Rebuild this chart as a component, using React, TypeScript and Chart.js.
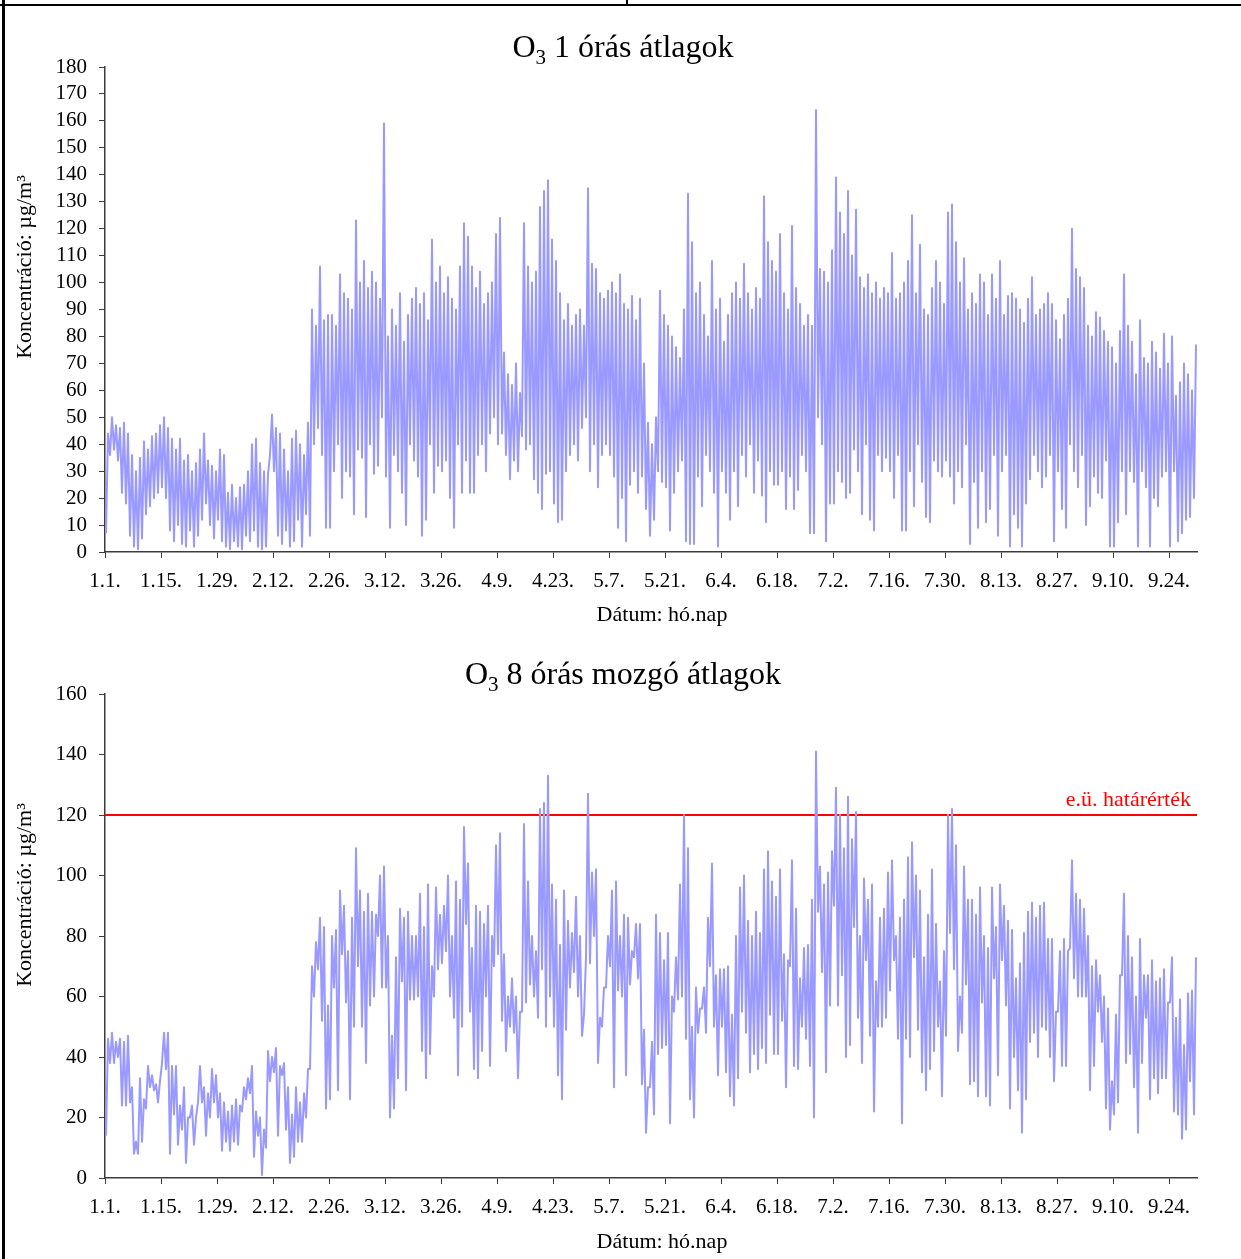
import { useEffect, useRef } from 'react';
import { Chart, registerables } from 'chart.js';

Chart.register(...registerables);

const FONT = '"Liberation Serif", "Times New Roman", serif';

// x-axis tick labels (every 14 days starting 1 January)
const tickLabels = ['1.1.', '1.15.', '1.29.', '2.12.', '2.26.', '3.12.', '3.26.', '4.9.', '4.23.', '5.7.',
  '5.21.', '6.4.', '6.18.', '7.2.', '7.16.', '7.30.', '8.13.', '8.27.', '9.10.', '9.24.'];
const tickStepDays = 14;
const dayCount = 273;

// O3 1-hour averages: daily low / daily high (µg/m3), 1 Jan .. 30 Sep
const hourlyDailyLow = [
  7, 36, 38, 34, 22, 18, 6, 2, 1, 5, 14, 17, 20, 22,
  24, 20, 8, 4, 10, 3, 2, 8, 2, 6, 12, 18, 10, 5,
  12, 4, 2, 1, 4, 2, 1, 6, 4, 8, 2, 1, 2, 36,
  30, 6, 3, 8, 2, 4, 12, 2, 14, 6, 40, 46, 36, 9,
  9, 30, 40, 20, 30, 28, 14, 38, 35, 13, 40, 29, 32, 50,
  28, 9, 36, 30, 22, 10, 40, 34, 28, 6, 12, 40, 22, 32,
  30, 34, 20, 9, 40, 22, 34, 22, 22, 36, 40, 30, 44, 50,
  40, 44, 36, 27, 34, 30, 43, 38, 40, 27, 22, 16, 29, 30,
  18, 11, 12, 30, 36, 40, 34, 46, 50, 30, 40, 24, 36, 40,
  36, 28, 9, 20, 4, 25, 30, 22, 28, 16, 6, 12, 30, 26,
  24, 8, 22, 30, 34, 4, 3, 3, 28, 17, 36, 30, 22, 2,
  30, 22, 12, 30, 17, 36, 28, 40, 22, 34, 21, 11, 30, 25,
  25, 30, 16, 28, 16, 23, 36, 30, 7, 7, 50, 40, 4, 18,
  18, 30, 26, 20, 22, 38, 30, 14, 40, 12, 8, 36, 30, 35,
  30, 20, 36, 8, 8, 30, 17, 40, 26, 13, 11, 34, 30, 28,
  34, 28, 18, 30, 24, 40, 3, 26, 9, 30, 11, 16, 36, 6,
  30, 36, 2, 14, 9, 2, 18, 27, 36, 30, 24, 28, 36, 4,
  30, 16, 9, 40, 30, 24, 36, 10, 17, 28, 22, 20, 34, 2,
  2, 11, 30, 14, 30, 26, 2, 30, 24, 2, 20, 17, 28, 30,
  2, 30, 4, 7, 12, 13, 20,
];
const hourlyDailyHigh = [
  44, 50, 47, 46, 48, 44, 36, 30, 35, 41, 38, 43, 44, 47,
  50, 46, 42, 38, 42, 34, 36, 30, 33, 38, 44, 34, 32, 30,
  38, 36, 22, 25, 20, 24, 25, 30, 40, 42, 33, 30, 29, 51,
  46, 44, 38, 30, 42, 45, 40, 36, 48, 90, 84, 106, 86, 88,
  88, 84, 103, 96, 94, 90, 123, 100, 108, 98, 104, 100, 94, 159,
  80, 90, 84, 96, 78, 88, 94, 98, 92, 96, 86, 116, 100, 106,
  96, 102, 94, 90, 106, 122, 117, 106, 98, 104, 92, 96, 100, 118,
  124, 74, 66, 62, 70, 59, 122, 106, 100, 104, 128, 134, 138, 116,
  108, 96, 86, 92, 84, 88, 90, 84, 135, 107, 105, 96, 94, 97,
  100, 96, 103, 92, 90, 95, 86, 94, 70, 48, 40, 50, 97, 88,
  84, 80, 76, 72, 90, 133, 115, 96, 100, 88, 80, 108, 90, 94,
  78, 88, 96, 100, 94, 107, 96, 90, 98, 94, 132, 115, 108, 104,
  118, 96, 90, 121, 98, 92, 84, 88, 84, 164, 105, 104, 100, 112,
  139, 126, 118, 134, 110, 127, 102, 98, 103, 96, 100, 94, 98, 96,
  111, 94, 96, 100, 108, 125, 96, 114, 90, 88, 98, 108, 100, 92,
  126, 129, 115, 100, 109, 90, 96, 92, 103, 100, 88, 103, 94, 108,
  88, 95, 96, 94, 90, 85, 94, 102, 88, 90, 92, 96, 92, 86,
  79, 88, 94, 120, 105, 102, 98, 84, 80, 89, 87, 82, 78, 76,
  70, 82, 103, 84, 78, 66, 86, 72, 70, 78, 74, 68, 81, 70,
  80, 58, 63, 70, 66, 60, 77,
];

// O3 8-hour moving averages: daily low / daily high (µg/m3)
const movingDailyLow = [
  14, 38, 38, 40, 24, 24, 25, 8, 8, 12, 23, 30, 29, 25,
  38, 36, 8, 21, 11, 16, 5, 20, 11, 25, 25, 14, 20, 25,
  20, 9, 12, 9, 12, 11, 22, 26, 28, 7, 14, 1, 10, 32,
  35, 14, 34, 16, 5, 7, 12, 12, 20, 36, 60, 69, 52, 23,
  26, 63, 29, 74, 58, 26, 50, 70, 50, 38, 57, 60, 80, 63,
  63, 20, 23, 33, 65, 29, 59, 59, 60, 42, 33, 41, 60, 69,
  71, 75, 60, 53, 34, 50, 84, 55, 36, 33, 42, 60, 37, 70,
  74, 52, 42, 50, 48, 33, 55, 58, 64, 60, 53, 69, 50, 60,
  50, 34, 26, 49, 63, 68, 60, 47, 73, 71, 80, 38, 50, 63,
  70, 30, 62, 60, 34, 64, 73, 66, 31, 15, 30, 21, 41, 43,
  44, 18, 55, 59, 60, 46, 26, 20, 48, 56, 48, 70, 50, 34,
  50, 35, 27, 24, 33, 55, 48, 35, 41, 36, 43, 38, 54, 41,
  41, 52, 30, 70, 37, 36, 50, 46, 37, 20, 88, 68, 35, 57,
  90, 57, 67, 40, 44, 83, 53, 38, 72, 47, 22, 50, 50, 53,
  62, 72, 46, 18, 46, 40, 73, 49, 35, 29, 36, 42, 50, 27,
  47, 81, 69, 42, 48, 64, 31, 32, 27, 58, 27, 24, 66, 34,
  72, 57, 23, 40, 29, 15, 26, 45, 48, 40, 50, 49, 40, 32,
  55, 37, 37, 76, 66, 60, 60, 60, 29, 37, 55, 45, 23, 16,
  21, 25, 67, 38, 41, 30, 15, 38, 53, 26, 33, 28, 33, 33,
  58, 22, 21, 13, 16, 32, 21,
];
const movingDailyHigh = [
  46, 48, 45, 46, 45, 47, 30, 12, 33, 26, 37, 34, 31, 32,
  48, 48, 37, 37, 24, 30, 20, 24, 20, 37, 30, 28, 36, 34,
  28, 25, 22, 24, 26, 24, 30, 33, 37, 22, 20, 16, 42, 40,
  43, 37, 38, 30, 21, 30, 25, 28, 36, 70, 78, 86, 83, 57,
  80, 82, 95, 90, 75, 86, 109, 95, 88, 94, 88, 87, 100, 103,
  80, 47, 73, 89, 86, 88, 80, 80, 94, 83, 97, 70, 96, 87,
  90, 100, 80, 98, 92, 116, 104, 76, 90, 88, 84, 90, 80, 110,
  114, 74, 60, 66, 60, 55, 117, 98, 80, 75, 122, 124, 133, 97,
  92, 77, 95, 85, 81, 93, 80, 54, 127, 101, 102, 53, 63, 80,
  95, 98, 80, 87, 86, 75, 84, 84, 49, 30, 45, 87, 81, 72,
  81, 60, 73, 97, 120, 109, 50, 63, 56, 63, 86, 104, 67, 69,
  69, 70, 54, 80, 96, 100, 85, 80, 88, 81, 102, 108, 98, 93,
  102, 74, 72, 105, 89, 66, 76, 77, 92, 141, 103, 97, 101, 108,
  129, 120, 109, 126, 112, 121, 80, 99, 92, 97, 65, 86, 89, 101,
  105, 80, 86, 92, 106, 111, 100, 95, 73, 87, 102, 84, 65, 75,
  120, 122, 110, 60, 103, 92, 92, 87, 96, 80, 76, 96, 83, 97,
  90, 85, 82, 66, 71, 81, 88, 91, 86, 90, 91, 79, 79, 55,
  75, 79, 75, 105, 94, 92, 89, 80, 70, 72, 67, 60, 56, 32,
  54, 67, 94, 80, 73, 60, 79, 67, 67, 72, 65, 66, 69, 58,
  73, 53, 59, 44, 61, 62, 73,
];

const limitValue = 120;
const limitLabel = 'e.ü. határérték';
const hourlyTitle = ['O', '3', ' 1 órás átlagok'];
const movingTitle = ['O', '3', ' 8 órás mozgó átlagok'];
const yAxisTitle = 'Koncentráció: µg/m³';
const xAxisTitle = 'Dátum: hó.nap';

const LINE_COLOR = '#9999ff';
const AXIS_COLOR = '#3c3c3c';
const PAGE_W = 1241;

function dailyToSeries(lows: number[], highs: number[]) {
  const pts: { x: number; y: number }[] = [];
  lows.forEach((lo, d) => {
    pts.push({ x: d + 0.25, y: lo });
    pts.push({ x: d + 0.75, y: highs[d] });
  });
  return pts;
}

type PanelProps = {
  top: number;
  height: number;
  plotTop: number;
  plotBottom: number;
  yMax: number;
  yStep: number;
  lows: number[];
  highs: number[];
  title: string[];
  titleBaseline: number;
  yTitleCenter: number;
  xTitleBaseline: number;
  limit?: boolean;
};

function ChartPanel(p: PanelProps) {
  const ref = useRef<HTMLCanvasElement | null>(null);
  useEffect(() => {
    if (!ref.current) return;
    const overlay = {
      id: 'overlay',
      afterDraw(chart: any) {
        const ctx = chart.ctx as CanvasRenderingContext2D;
        ctx.save();
        ctx.fillStyle = '#000';
        // title with subscript
        const big = `32px ${FONT}`;
        const small = `21px ${FONT}`;
        ctx.font = big;
        const w1 = ctx.measureText(p.title[0]).width;
        const w3 = ctx.measureText(p.title[2]).width;
        ctx.font = small;
        const w2 = ctx.measureText(p.title[1]).width;
        let x = 623 - (w1 + w2 + w3) / 2;
        const by = p.titleBaseline - p.top;
        ctx.textAlign = 'left';
        ctx.textBaseline = 'alphabetic';
        ctx.font = big;
        ctx.fillText(p.title[0], x, by);
        x += w1;
        ctx.font = small;
        ctx.fillText(p.title[1], x, by + 7);
        x += w2;
        ctx.font = big;
        ctx.fillText(p.title[2], x, by);
        // x axis title
        ctx.font = `22px ${FONT}`;
        ctx.textAlign = 'center';
        ctx.fillText(xAxisTitle, 662, p.xTitleBaseline - p.top);
        // y axis title
        ctx.save();
        ctx.translate(25, p.yTitleCenter - p.top);
        ctx.rotate(-Math.PI / 2);
        ctx.textBaseline = 'middle';
        ctx.fillText(yAxisTitle, 0, 0);
        ctx.restore();
        if (p.limit) {
          const yPix = chart.scales.y.getPixelForValue(limitValue);
          ctx.fillStyle = '#ff0000';
          ctx.font = `22px ${FONT}`;
          ctx.textAlign = 'right';
          ctx.textBaseline = 'alphabetic';
          ctx.fillText(limitLabel, 1191, yPix - 9);
        }
        ctx.restore();
      },
    };
    const datasets: any[] = [
      {
        data: dailyToSeries(p.lows, p.highs),
        borderColor: LINE_COLOR,
        borderWidth: 2,
        borderJoinStyle: 'round',
        pointRadius: 0,
        tension: 0,
        fill: false,
      },
    ];
    if (p.limit) {
      datasets.push({
        data: [
          { x: 0, y: limitValue },
          { x: dayCount, y: limitValue },
        ],
        borderColor: '#ff0000',
        borderWidth: 2,
        pointRadius: 0,
        fill: false,
      });
    }
    const chart = new Chart(ref.current, {
      type: 'line',
      data: { datasets },
      options: {
        animation: false,
        responsive: false,
        maintainAspectRatio: false,
        events: [],
        layout: { padding: { top: p.plotTop - p.top, right: PAGE_W - 1197, left: 0, bottom: 0 } },
        plugins: { legend: { display: false }, tooltip: { enabled: false }, title: { display: false } },
        scales: {
          x: {
            type: 'linear',
            min: 0,
            max: dayCount,
            afterBuildTicks: (ax: any) => {
              ax.ticks = tickLabels.map((_, i) => ({ value: i * tickStepDays }));
            },
            afterFit: (ax: any) => {
              ax.height = p.top + p.height - p.plotBottom;
            },
            ticks: {
              callback: (_v: any, i: number) => tickLabels[i],
              font: { family: FONT, size: 21 },
              color: '#000',
              maxRotation: 0,
              autoSkip: false,
              padding: 11,
            },
            grid: { display: true, drawOnChartArea: false, drawTicks: true, tickLength: 6, color: AXIS_COLOR },
            border: { display: true, color: AXIS_COLOR, width: 1.5 },
          },
          y: {
            type: 'linear',
            min: 0,
            max: p.yMax,
            afterFit: (ax: any) => {
              ax.width = 105;
            },
            ticks: {
              stepSize: p.yStep,
              autoSkip: false,
              font: { family: FONT, size: 21 },
              color: '#000',
              padding: 12,
            },
            grid: { display: true, drawOnChartArea: false, drawTicks: true, tickLength: 6, color: AXIS_COLOR },
            border: { display: true, color: AXIS_COLOR, width: 1.5 },
          },
        },
      } as any,
      plugins: [overlay],
    });
    return () => chart.destroy();
  }, []);
  return (
    <div style={{ position: 'absolute', left: 0, top: p.top, width: PAGE_W, height: p.height }}>
      <canvas ref={ref} width={PAGE_W} height={p.height} style={{ width: PAGE_W, height: p.height, display: 'block' }} />
    </div>
  );
}

export default function App() {
  return (
    <div style={{ position: 'absolute', left: 0, top: 0, width: PAGE_W, height: 1259, background: '#fff', overflow: 'hidden' }}>
      <ChartPanel
        top={0}
        height={632}
        plotTop={67}
        plotBottom={552}
        yMax={180}
        yStep={10}
        lows={hourlyDailyLow}
        highs={hourlyDailyHigh}
        title={hourlyTitle}
        titleBaseline={57}
        yTitleCenter={267}
        xTitleBaseline={621}
      />
      <ChartPanel
        top={632}
        height={627}
        plotTop={694}
        plotBottom={1178}
        yMax={160}
        yStep={20}
        lows={movingDailyLow}
        highs={movingDailyHigh}
        title={movingTitle}
        titleBaseline={684}
        yTitleCenter={895}
        xTitleBaseline={1248}
        limit
      />
      <div style={{ position: 'absolute', left: 2, top: 0, width: 3, height: 1259, background: '#000' }} />
      <div style={{ position: 'absolute', left: 0, top: 4, width: PAGE_W, height: 2, background: '#000' }} />
      <div style={{ position: 'absolute', left: 626, top: 0, width: 2, height: 5, background: '#000' }} />
    </div>
  );
}
